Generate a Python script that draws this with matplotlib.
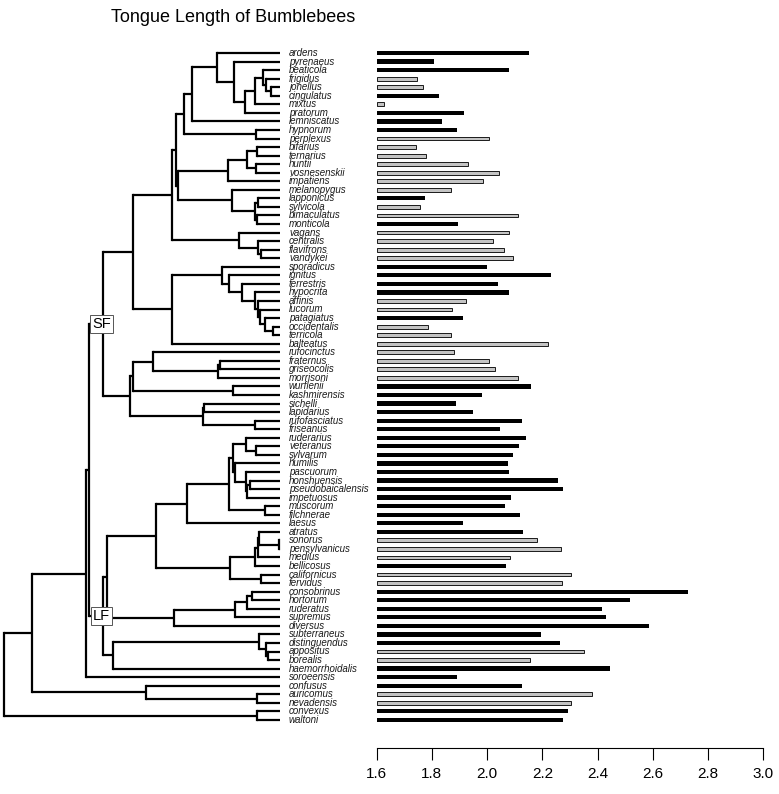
import matplotlib
matplotlib.use("Agg")
import matplotlib.pyplot as plt

plt.rcParams['font.family'] = ['Liberation Sans', 'DejaVu Sans']

# tips, top to bottom
species = [
    "ardens", "pyrenaeus", "beaticola", "frigidus", "jonellus", "cingulatus",
    "mixtus", "pratorum", "lemniscatus", "hypnorum", "perplexus", "bifarius",
    "ternarius", "huntii", "vosnesenskii", "impatiens", "melanopygus",
    "lapponicus", "sylvicola", "bimaculatus", "monticola", "vagans",
    "centralis", "flavifrons", "vandykei", "sporadicus", "ignitus",
    "terrestris", "hypocrita", "affinis", "lucorum", "patagiatus",
    "occidentalis", "terricola", "balteatus", "rufocinctus", "fraternus",
    "griseocolis", "morrisoni", "wurflenii", "kashmirensis", "sichelli",
    "lapidarius", "rufofasciatus", "friseanus", "ruderarius", "veteranus",
    "sylvarum", "humilis", "pascuorum", "honshuensis", "pseudobaicalensis",
    "impetuosus", "muscorum", "filchnerae", "laesus", "atratus", "sonorus",
    "pensylvanicus", "medius", "bellicosus", "californicus", "fervidus",
    "consobrinus", "hortorum", "ruderatus", "supremus", "diversus",
    "subterraneus", "distinguendus", "appositus", "borealis",
    "haemorrhoidalis", "soroeensis", "confusus", "auricomus", "nevadensis",
    "convexus", "waltoni",
]

tongue = [
    2.153, 1.809, 2.080, 1.747, 1.767, 1.827, 1.628, 1.915, 1.835, 1.889,
    2.006, 1.741, 1.780, 1.932, 2.044, 1.984, 1.869, 1.774, 1.756, 2.112,
    1.893, 2.080, 2.022, 2.060, 2.092, 1.998, 2.231, 2.041, 2.080, 1.925,
    1.872, 1.911, 1.787, 1.869, 2.222, 1.881, 2.006, 2.030, 2.111, 2.158,
    1.980, 1.887, 1.949, 2.125, 2.045, 2.141, 2.117, 2.095, 2.074, 2.080,
    2.257, 2.274, 2.085, 2.065, 2.118, 1.914, 2.129, 2.182, 2.269, 2.083,
    2.068, 2.305, 2.271, 2.729, 2.517, 2.417, 2.432, 2.585, 2.194, 2.264,
    2.352, 2.154, 2.444, 1.889, 2.126, 2.380, 2.303, 2.293, 2.276,
]

# 1 = black bar, 0 = grey bar
dark = [
    1, 1, 1, 0, 0, 1, 0, 1, 1, 1, 0, 0, 0, 0, 0, 0, 0, 1, 0, 0,
    1, 0, 0, 0, 0, 1, 1, 1, 1, 0, 0, 1, 0, 0, 0, 0, 0, 0, 0, 1,
    1, 1, 1, 1, 1, 1, 1, 1, 1, 1, 1, 1, 1, 1, 1, 1, 1, 0, 0, 0,
    1, 0, 0, 1, 1, 1, 1, 1, 1, 1, 0, 0, 1, 1, 1, 0, 0, 1, 1,
]

# tree: internal node = (x position, upper child, lower child), tips are names
clade_I = (184.3,
           (191.7,
            (217.3, "ardens",
             (234.3, "pyrenaeus",
              (245, (255, (263.3, "beaticola",
                           (266, "frigidus", (271, "jonellus", "cingulatus"))),
                     "mixtus"),
               "pratorum"))),
            "lemniscatus"),
           (256, "hypnorum", "perplexus"))
clade_II = (228.3, (247.3, (256.7, "bifarius", "ternarius"),
                    (256, "huntii", "vosnesenskii")), "impatiens")
clade_III = (231.7, "melanopygus",
             (255, (258.3, "lapponicus", "sylvicola"),
              (256.7, "bimaculatus", "monticola")))
clade_IV = (239.3, "vagans", (258.3, "centralis", (260.7, "flavifrons", "vandykei")))
clade_A = (171.7, (176, clade_I, (178, clade_II, clade_III)), clade_IV)

clade_B = (171.7,
           (221.7, "sporadicus",
            (229.3, "ignitus",
             (241.7, "terrestris",
              (255, "hypocrita",
               (258.3, "affinis",
                (260, "lucorum",
                 (265, "patagiatus", (273.3, "occidentalis", "terricola")))))))),
           "balteatus")

clade_ruf = (152.7, "rufocinctus",
             (218.3, (220, "fraternus", "griseocolis"), "morrisoni"))
clade_wk = (232.7, "wurflenii", "kashmirensis")
clade_sl = (202.7, (204, "sichelli", "lapidarius"), (255, "rufofasciatus", "friseanus"))
SF = (102.7, (132.7, clade_A, clade_B), (130, (132.7, clade_ruf, clade_wk), clade_sl))

clade_rud = (229.3,
             (232.7,
              (246, "ruderarius", (256, "veteranus", "sylvarum")),
              (235, "humilis",
               (246, "pascuorum",
                (247.3, (250, "honshuensis", "pseudobaicalensis"), "impetuosus")))),
             (265, "muscorum", "filchnerae"))
clade_atr = (230,
             (255, (258.3, (259.3, "atratus", (279, "sonorus", "pensylvanicus")),
                    "medius"), "bellicosus"),
             (260.7, "californicus", "fervidus"))
clade_cons = (174.3, (235, (247.3, (251.7, "consobrinus", "hortorum"), "ruderatus"),
                      "supremus"), "diversus")
clade_sub = (112.7, (259.3, "subterraneus",
                     (266, "distinguendus", (268.3, "appositus", "borealis"))),
             "haemorrhoidalis")
LF = (102.7, (106.7, (156, (186.7, clade_rud, "laesus"), clade_atr), clade_cons), clade_sub)

tree = (4, (31.7, (86, (89.3, SF, LF), "soroeensis"),
            (146, "confusus", (256.7, "auricomus", "nevadensis"))),
        (256.7, "convexus", "waltoni"))

tip_x = 280
node_labels = {"SF": SF, "LF": LF}

W, H = 779, 794
fig = plt.figure(figsize=(W / 100, H / 100), dpi=100)

# both panels share the same vertical scale: tip i sits at pixel 53 + 8.55 i
ylo, yhi = 81.3, -1.5
top_px = 53 + yhi * 8.55
bot_px = 53 + ylo * 8.55
ax = fig.add_axes([0, 1 - bot_px / H, 370 / W, (bot_px - top_px) / H])
ax.set_xlim(0, 370)
ax.set_ylim(ylo, yhi)
ax.axis("off")

ypos = {s: i for i, s in enumerate(species)}
lw = 1.6


def draw(node):
    if isinstance(node, str):
        return tip_x, ypos[node]
    x, a, b = node
    xa, ya = draw(a)
    xb, yb = draw(b)
    ax.plot([x, x], [ya, yb], color="black", lw=lw, solid_capstyle="projecting")
    ax.plot([x, xa], [ya, ya], color="black", lw=lw, solid_capstyle="butt")
    ax.plot([x, xb], [yb, yb], color="black", lw=lw, solid_capstyle="butt")
    return x, (ya + yb) / 2


draw(tree)


def node_y(node):
    if isinstance(node, str):
        return ypos[node]
    return (node_y(node[1]) + node_y(node[2])) / 2


for name, node in node_labels.items():
    ax.text(node[0] - 1, node_y(node), name, ha="center", va="center",
            fontsize=10.5, zorder=5,
            bbox=dict(boxstyle="square,pad=0.15", fc="white", ec="#555555", lw=0.7))

for i, s in enumerate(species):
    ax.text(289, i, s, ha="left", va="center", fontsize=7, style="italic",
            color="#1a1a1a")

# bars
x0_px, x1_px = 376.7, 763.3
axb = fig.add_axes([x0_px / W, 1 - bot_px / H, (x1_px - x0_px) / W, (bot_px - top_px) / H])
axb.set_xlim(1.6, 3.0)
axb.set_ylim(ylo, yhi)
for i, (v, d) in enumerate(zip(tongue, dark)):
    if d:
        axb.barh(i, v - 1.6, left=1.6, height=0.5, color="black", lw=0)
    else:
        axb.barh(i, v - 1.6, left=1.6, height=0.45, color="#c4c4c4",
                 edgecolor="#1a1a1a", lw=0.7)

for side in ["top", "right", "left"]:
    axb.spines[side].set_visible(False)
axb.spines["bottom"].set_linewidth(0.8)
axb.set_yticks([])
ticks = [1.6, 1.8, 2.0, 2.2, 2.4, 2.6, 2.8, 3.0]
axb.set_xticks(ticks)
axb.set_xticklabels([f"{t:.1f}" for t in ticks])
axb.tick_params(axis="x", direction="out", length=8.5, width=0.8, pad=5,
                labelsize=11)

fig.text(233 / W, 1 - 17 / H, "Tongue Length of Bumblebees", ha="center",
         va="center", fontsize=13)

fig.savefig("out.png", dpi=100)
